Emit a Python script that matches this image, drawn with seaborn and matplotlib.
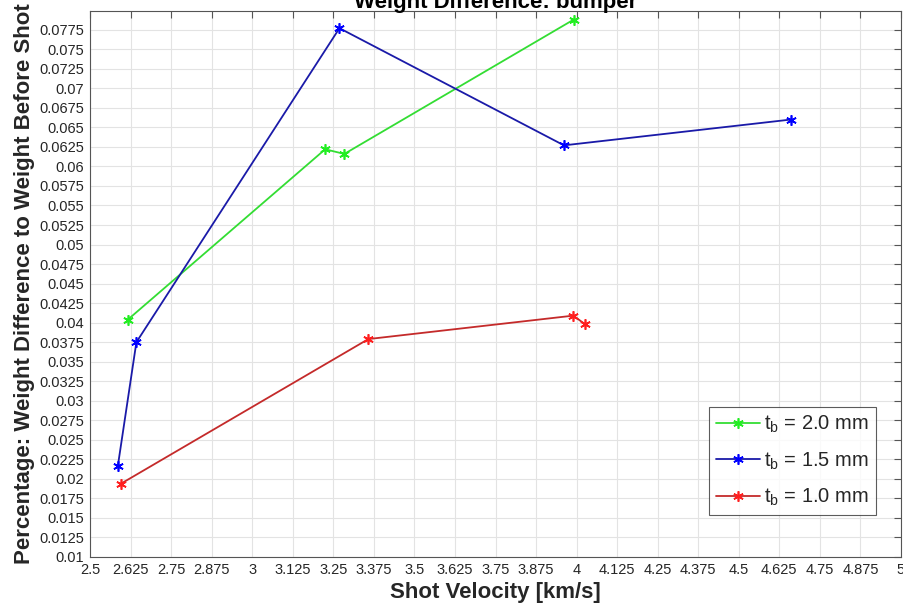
import numpy as np
import pandas as pd
import matplotlib
matplotlib.use("Agg")
import matplotlib.pyplot as plt
import seaborn as sns

# Measured shot velocity [km/s] and relative weight loss per bumper thickness
v_20 = [2.617, 3.225, 3.284, 3.991]
w_20 = [0.0404, 0.0622, 0.0616, 0.0788]

v_15 = [2.586, 2.643, 3.269, 3.961, 4.660]
w_15 = [0.0217, 0.0375, 0.0777, 0.0627, 0.0660]

v_10 = [2.596, 3.358, 3.990, 4.026]
w_10 = [0.0194, 0.0379, 0.0409, 0.0398]

labels = [r"$\mathregular{t_b}$ = 2.0 mm",
          r"$\mathregular{t_b}$ = 1.5 mm",
          r"$\mathregular{t_b}$ = 1.0 mm"]
line_colors = ["#33dd33", "#1a1aa8", "#c42a2a"]
marker_colors = ["#22ee22", "#0000ff", "#ff1f1f"]

x_ticks = np.arange(2.5, 5.0001, 0.125)
y_ticks = np.arange(0.01, 0.07751, 0.0025)

sns.set_style("white")
plt.rcParams["font.family"] = ["Liberation Sans", "DejaVu Sans"]
plt.rcParams["mathtext.fontset"] = "custom"
plt.rcParams["mathtext.rm"] = "Liberation Sans"

fig = plt.figure(figsize=(9.04, 6.13), dpi=100)
ax = fig.add_axes([90 / 904, 56 / 613, 811 / 904, 546 / 613])

frames = []
for v, w, lab in zip([v_20, v_15, v_10], [w_20, w_15, w_10], labels):
    frames.append(pd.DataFrame({"v": v, "w": w, "series": lab}))
df = pd.concat(frames, ignore_index=True)

# asterisk marker: six spokes
asterisk = (6, 2, 0)
for lab, lc, mc in zip(labels, line_colors, marker_colors):
    sub = df[df["series"] == lab]
    sns.lineplot(data=sub, x="v", y="w", sort=False, ax=ax, color=lc,
                 marker=asterisk, markersize=7.5, markeredgecolor=mc,
                 markerfacecolor=mc, markeredgewidth=1.2, linewidth=1.3,
                 label=lab, estimator=None)

ax.set_xlim(2.5, 5.0)
ax.set_ylim(0.01, 0.0799)
ax.set_xticks(x_ticks)
ax.set_yticks(y_ticks)
ax.xaxis.set_major_formatter(plt.FuncFormatter(lambda x, p: f"{x:g}"))
ax.yaxis.set_major_formatter(plt.FuncFormatter(lambda y, p: f"{round(y, 5):g}"))
ax.tick_params(axis="both", which="major", direction="in", length=5,
               width=0.8, color="#555555", labelsize=10.5,
               labelcolor="#262626", top=True, right=True, pad=4)
ax.grid(True, color="#e3e3e3", linewidth=0.8)
ax.set_axisbelow(True)
for s in ax.spines.values():
    s.set_color("#555555")
    s.set_linewidth(0.8)

ax.set_xlabel("Shot Velocity [km/s]", fontsize=16, fontweight="bold",
              color="#262626", labelpad=4)
ax.set_ylabel("Percentage: Weight Difference to Weight Before Shot",
              fontsize=16, fontweight="bold", color="#262626", labelpad=3)
ax.set_title("Weight Difference: bumper", fontsize=16, fontweight="bold",
             color="black", pad=2)

leg = ax.legend(loc="lower right", fontsize=14.5, frameon=True, fancybox=False,
                edgecolor="#333333", borderpad=0.35, handlelength=2.2,
                handletextpad=0.2, labelspacing=0.75,
                bbox_to_anchor=(0.982, 0.058))
leg.get_frame().set_linewidth(0.8)

fig.savefig("out.png", dpi=100)
